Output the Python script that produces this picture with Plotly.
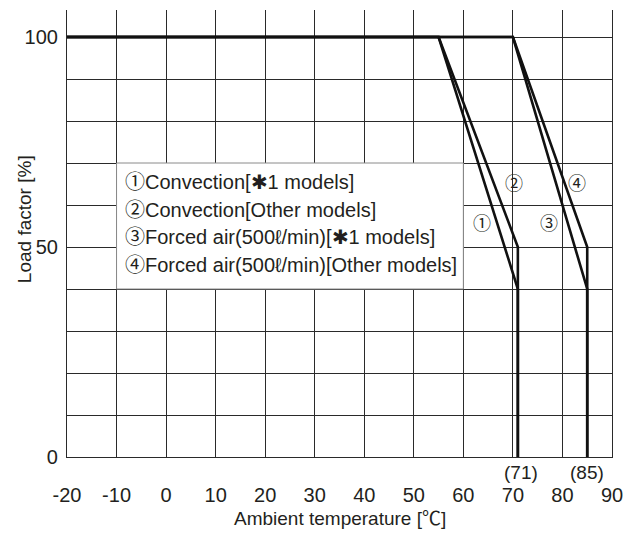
import plotly.graph_objects as go

# ---- data ----
curve_names = ["①", "②", "③", "④"]
curve_x = [
    [-20, 55, 71, 71],
    [-20, 55, 71, 71],
    [-20, 70, 85, 85],
    [-20, 70, 85, 85],
]
curve_y = [
    [100, 100, 40, 0],
    [100, 100, 50, 0],
    [100, 100, 40, 0],
    [100, 100, 50, 0],
]
legend_lines = [
    "①Convection[✱1 models]",
    "②Convection[Other models]",
    "③Forced air(500ℓ/min)[✱1 models]",
    "④Forced air(500ℓ/min)[Other models]",
]
label_pos_x = [63.8, 70.3, 77.2, 83.0]
label_pos_y = [55.5, 65.0, 55.5, 65.0]
x_ticks = [-20, -10, 0, 10, 20, 30, 40, 50, 60, 70, 80, 90]
y_ticks = [0, 50, 100]
limit_marks = [71, 85]

FONT = "Liberation Sans, Arial, Helvetica, Noto Sans CJK JP, sans-serif"
TXT = "#231f20"
GRID = "#2a2a2a"

fig = go.Figure()
for name, xs, ys in zip(curve_names, curve_x, curve_y):
    fig.add_trace(go.Scatter(x=xs, y=ys, mode="lines", name=name,
                             line=dict(color="#111111", width=2.6),
                             showlegend=False, hoverinfo="skip"))

# legend box
fig.add_shape(type="rect", xref="x", yref="y", x0=-10, x1=60, y0=40, y1=70,
              fillcolor="white", line=dict(color="#8a8a8a", width=1), layer="above")

legend_y = [65.5, 58.9, 52.3, 45.7]
for txt, yy in zip(legend_lines, legend_y):
    fig.add_annotation(x=-8.6, y=yy, xref="x", yref="y", text=txt, showarrow=False,
                       xanchor="left", yanchor="middle",
                       font=dict(family=FONT, size=20, color=TXT))

for name, lx, ly in zip(curve_names, label_pos_x, label_pos_y):
    fig.add_annotation(x=lx, y=ly, xref="x", yref="y", text=name, showarrow=False,
                       xanchor="center", yanchor="middle",
                       font=dict(family=FONT, size=18, color=TXT))

for m in limit_marks:
    fig.add_annotation(x=m, y=-0.034, xref="x", yref="paper", text=f"({m})",
                       showarrow=False, xshift=3 if m == 71 else 0,
                       xanchor="center", yanchor="middle",
                       font=dict(family=FONT, size=19, color=TXT))

fig.add_annotation(x=0.5, y=-0.137, xref="paper", yref="paper",
                   text="Ambient temperature [℃]", showarrow=False,
                   xanchor="center", yanchor="middle",
                   font=dict(family=FONT, size=19, color=TXT))
fig.add_annotation(x=-0.079, y=0.532, xref="paper", yref="paper",
                   text="Load factor [%]", showarrow=False, textangle=-90,
                   xanchor="center", yanchor="middle",
                   font=dict(family=FONT, size=19, color=TXT))

fig.update_xaxes(range=[-20, 90], tickvals=x_ticks, ticktext=[str(v) for v in x_ticks],
                 showgrid=True, gridcolor=GRID, gridwidth=1.2, zeroline=False,
                 showline=True, linecolor=GRID, linewidth=1.2, mirror=False,
                 ticks="outside", ticklen=20, tickcolor="rgba(0,0,0,0)",
                 tickfont=dict(family=FONT, size=20, color=TXT), automargin=False)
fig.update_yaxes(range=[0, 106.43], tickvals=y_ticks, ticktext=[str(v) for v in y_ticks],
                 showgrid=True, gridcolor=GRID, gridwidth=1.2, zeroline=False,
                 minor=dict(dtick=10, showgrid=True, gridcolor=GRID, gridwidth=1.2),
                 showline=True, linecolor=GRID, linewidth=1.2, mirror=True,
                 ticks="outside", ticklen=4, tickcolor="rgba(0,0,0,0)",
                 tickfont=dict(family=FONT, size=20, color=TXT), automargin=False)

fig.update_layout(width=635, height=535, margin=dict(l=67, r=23, t=10, b=78),
                  plot_bgcolor="white", paper_bgcolor="white", showlegend=False)

fig.write_html("out.html", config={"displayModeBar": False},
               post_script="document.body.style.margin='0';document.body.style.padding='0';")
